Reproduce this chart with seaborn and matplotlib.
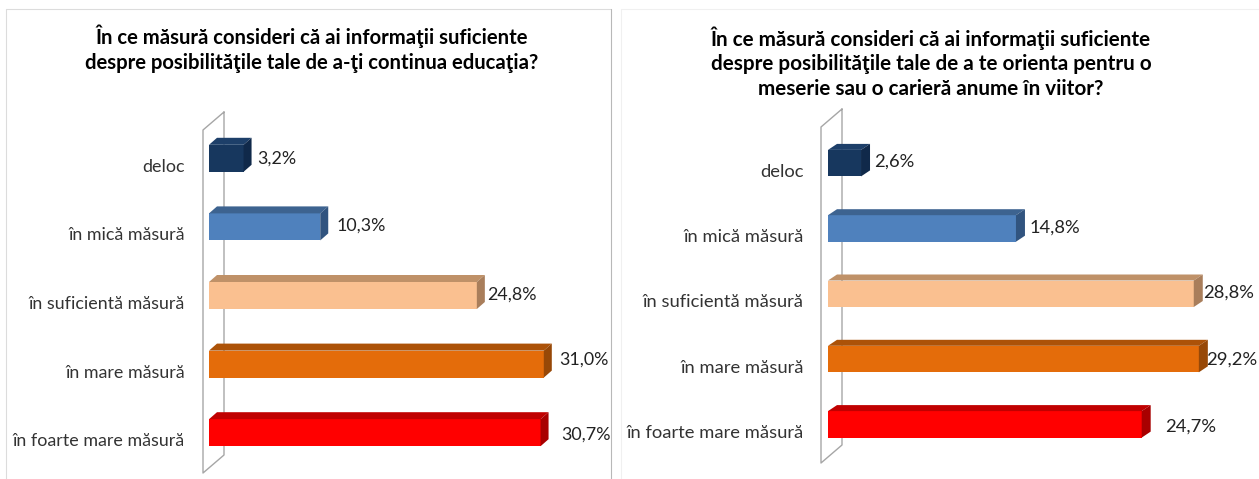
import matplotlib
matplotlib.use('Agg')
import matplotlib.pyplot as plt
from matplotlib.lines import Line2D
from matplotlib.transforms import ScaledTranslation
import pandas as pd
import seaborn as sns

categories = ['deloc', 'în mică măsură', 'în suficientă măsură', 'în mare măsură', 'în foarte mare măsură']

educatie_values = [3.2, 10.3, 24.8, 31.0, 30.7]
cariera_values = [2.6, 14.8, 28.8, 29.2, 24.7]

educatie_title = 'În ce măsură consideri că ai informaţii suficiente\ndespre posibilităţile tale de a-ţi continua educaţia?'
cariera_title = ('În ce măsură consideri că ai informaţii suficiente\n'
                 'despre posibilităţile tale de a te orienta pentru o\n'
                 'meserie sau o carieră anume în viitor?')

front_colors = ['#17375E', '#4F81BD', '#FAC090', '#E46C0A', '#FF0000']
top_colors = ['#1D3F69', '#3D6390', '#BF9168', '#AC5208', '#C00000']
side_colors = ['#10294A', '#31547F', '#A97E5B', '#974807', '#A80000']

W, H = 1259, 479

sns.set_style('white')
plt.rcParams['font.family'] = ['Lato', 'DejaVu Sans']

fig = plt.figure(figsize=(W / 100, H / 100), dpi=100)


def fig_line(xs, ys, color, lw=1.0):
    """Line on the figure, given in reference pixels (y counted from the top)"""
    fig.add_artist(Line2D([x / W for x in xs], [1 - y / H for y in ys],
                          color=color, lw=lw, zorder=-1))


def draw_panel(values, title, title_x, title_y, title_size, text_size, x0, x1, scale, y_top, y_bottom, bar_h, depth,
               wall, label_dx, label_dy):
    ax = fig.add_axes([x0 / W, 1 - y_bottom / H, (x1 - x0) / W, (y_bottom - y_top) / H])
    ax.patch.set_alpha(0)

    df = pd.DataFrame({'categorie': categories, 'procent': values})
    spacing = (y_bottom - y_top) / len(categories)
    sns.barplot(data=df, y='categorie', x='procent', hue='categorie', order=categories,
                palette=dict(zip(categories, front_colors)), saturation=1, legend=False,
                width=bar_h / spacing, linewidth=0, ax=ax)

    ax.set_xlim(0, (x1 - x0) / scale)
    ax.set_ylim(len(categories) - 0.5, -0.5)
    ax.set_xlabel('')
    ax.set_ylabel('')
    ax.set_xticks([])
    sns.despine(ax=ax, left=True, bottom=True)

    # the pseudo 3D top and side of every bar, worked out from the seaborn bars
    dx = depth[0] / scale
    dy = depth[1] / spacing
    for i, bar in enumerate(ax.patches[:len(categories)]):
        right = bar.get_width()
        top = bar.get_y()
        bottom = top + bar.get_height()
        ax.fill([0, dx, right + dx, right], [top, top - dy, top - dy, top],
                color=top_colors[i], lw=0, clip_on=False)
        ax.fill([right, right + dx, right + dx, right], [top, top - dy, bottom - dy, bottom],
                color=side_colors[i], lw=0, clip_on=False)
        ax.annotate(f'{values[i]:.1f}%'.replace('.', ','), xy=(right, i), xytext=(label_dx[i], label_dy[i]),
                    textcoords='offset pixels', va='center', ha='left', fontsize=text_size, color='#222222',
                    annotation_clip=False)

    ax.tick_params(axis='y', left=False, pad=14, labelsize=text_size, labelcolor='#333333')
    shift = ScaledTranslation(0, -7 / fig.dpi, fig.dpi_scale_trans)
    for label in ax.get_yticklabels():
        label.set_transform(label.get_transform() + shift)

    # the slanted wall the bars stand on
    (wx0, wx1, wy0, wy1) = wall
    fig_line([wx1, wx0, wx0, wx1, wx1, wx1], [wy0 - 18, wy0, wy1, wy1 - 18, wy1 - 18, wy0 - 18], '#A6A6A6')

    fig.text(title_x / W, 1 - title_y / H, title, ha='center', va='top', fontsize=title_size,
             fontweight='bold', color='black', linespacing=1.3)
    return ax


# panel frames
fig_line([6, 6, 611], [479, 9, 9], '#DCDCDC', lw=0.8)
fig_line([611, 611], [9, 479], '#B8B8B8', lw=0.8)
fig_line([621, 621, 1259], [479, 9, 9], '#F0F0F0', lw=0.8)

draw_panel(educatie_values, educatie_title, 312, 25, 14.6, 12.9, 209, 600, 10.8, 124, 467, 27, (8, 7),
           (203, 224, 130, 473), [14, 16, 10, 15, 21], [0, 1, 1, 4, -2])
draw_panel(cariera_values, cariera_title, 931, 26, 14.9, 13.2, 828, 1250, 12.7, 130.5, 457, 26.5, (9, 6),
           (821, 842, 127, 463), [13, 14, 9, 7, 23], [2, 1, 1, -1, -2])

fig.savefig('out.png', dpi=100)
